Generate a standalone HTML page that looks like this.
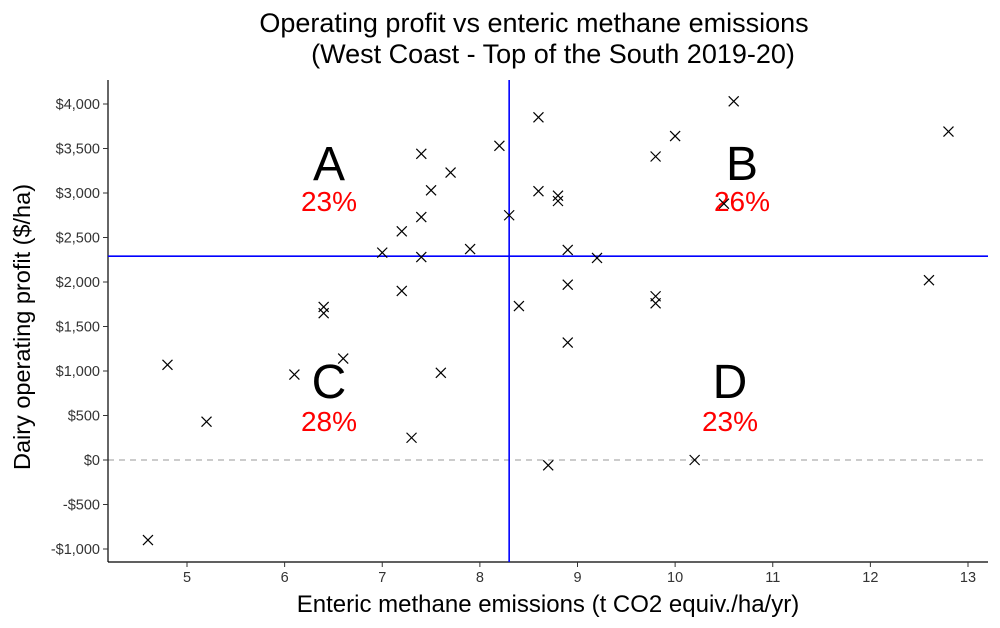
<!DOCTYPE html>
<html><head><meta charset="utf-8"><style>
body{margin:0;background:#fff;font-family:"Liberation Sans",sans-serif}
svg text{font-family:"Liberation Sans",sans-serif}
</style></head><body>
<svg id="c" width="1000" height="623"></svg>
<script>
const xs=[4.6,4.8,5.2,6.1,6.4,6.4,6.6,7.0,7.2,7.2,7.3,7.4,7.4,7.4,7.5,7.6,7.7,7.9,8.2,8.3,8.4,8.6,8.6,8.7,8.8,8.8,8.9,8.9,8.9,9.2,9.8,9.8,9.8,10.0,10.2,10.5,10.6,12.6,12.8];
const ys=[-900,1070,430,960,1720,1650,1140,2330,2570,1900,250,3440,2730,2280,3030,980,3230,2370,3530,2750,1730,3850,3020,-60,2970,2910,2360,1970,1320,2270,3410,1840,1760,3640,0,2880,4030,2020,3690];
const xTicks=[5,6,7,8,9,10,11,12,13];
const yTicks=[-1000,-500,0,500,1000,1500,2000,2500,3000,3500,4000];
const yTickLabels=["-$1,000","-$500","$0","$500","$1,000","$1,500","$2,000","$2,500","$3,000","$3,500","$4,000"];
const vLine=8.3, hLine=2290;
const quadLabels=["A","B","C","D"], quadPct=["23%","26%","28%","23%"];

const svg=document.getElementById('c');const NS="http://www.w3.org/2000/svg";
const X=v=>187+(v-5)*97.625, Y=v=>460-v*0.089;
function el(t,a,p){const e=document.createElementNS(NS,t);for(const k in a)e.setAttribute(k,a[k]);(p||svg).appendChild(e);return e;}
function txt(s,a){const e=el('text',a);e.textContent=s;return e;}
const L=108,R=988,T=80,B=562;
let t=txt("Operating profit vs enteric methane emissions",{x:534,y:32,'font-size':27,'text-anchor':'middle'});

t=txt("(West Coast - Top of the South 2019-20)",{x:553,y:63,'font-size':27,'text-anchor':'middle'});

let z=el('line',{x1:L,x2:R,y1:Y(0),y2:Y(0),stroke:'#bbb','stroke-width':1.5,'stroke-dasharray':'6,5'});

let ax=el('line',{x1:L,x2:L,y1:T,y2:B,stroke:'#000','stroke-width':1.2});

ax=el('line',{x1:L,x2:R,y1:B,y2:B,stroke:'#000','stroke-width':1.2});

xTicks.forEach(v=>{const x=X(v);el('line',{x1:x,x2:x,y1:B,y2:B+5,stroke:'#333'});
 const e=txt(String(v),{x:x,y:B+20,'font-size':14.5,'text-anchor':'middle',fill:'#333'});
 });
yTicks.forEach((v,i)=>{const y=Y(v);el('line',{x1:L-5,x2:L,y1:y,y2:y,stroke:'#333'});
 const e=txt(yTickLabels[i],{x:L-8,y:y+5,'font-size':14.5,'text-anchor':'end',fill:'#333'});
 });
t=txt("Enteric methane emissions (t CO2 equiv./ha/yr)",{x:548,y:612,'font-size':24,'text-anchor':'middle'});

t=txt("Dairy operating profit ($/ha)",{x:0,y:0,'font-size':23.5,'text-anchor':'middle',transform:'translate(30,327) rotate(-90)'});

let vl=el('line',{x1:X(vLine),x2:X(vLine),y1:T,y2:B,stroke:'#0000ff','stroke-width':1.6});

let hl=el('line',{x1:L,x2:R,y1:Y(hLine),y2:Y(hLine),stroke:'#0000ff','stroke-width':1.6});

const qpos=[[329,180,202],[742,180,202],[329,398,422],[730,398,422]];
quadLabels.forEach((q,i)=>{const p=qpos[i];
 let a=txt(q,{x:p[0],y:p[1],'font-size':48,'text-anchor':'middle'});
 
 let b=txt(quadPct[i],{x:p[0],y:p[2]+9,'font-size':28,'text-anchor':'middle',fill:'#ff0000'});
 });
xs.forEach((v,i)=>{const x=X(v),y=Y(ys[i]),s=5;
 const g=el('g',{stroke:'#000','stroke-width':1.2});
 
 
 el('line',{x1:x-s,y1:y-s,x2:x+s,y2:y+s},g);el('line',{x1:x-s,y1:y+s,x2:x+s,y2:y-s},g);});
</script></body></html>
